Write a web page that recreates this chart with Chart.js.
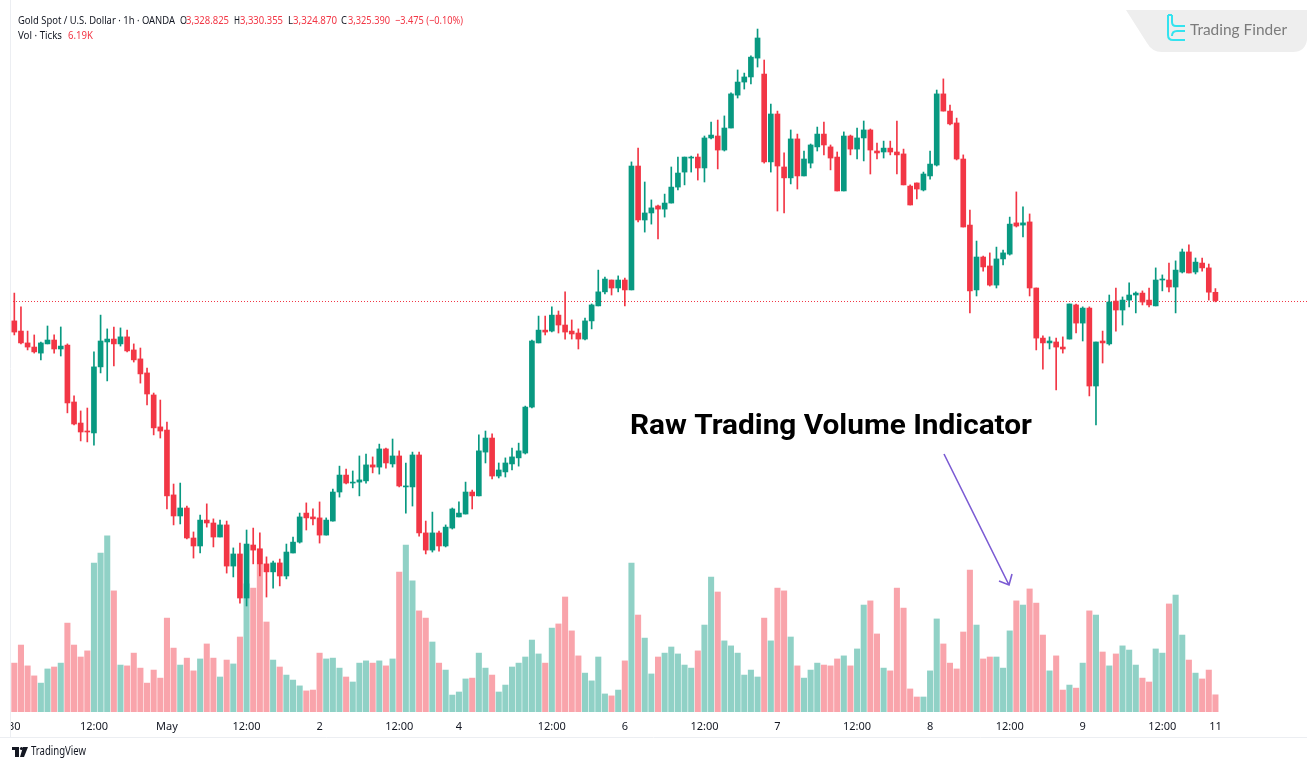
<!DOCTYPE html>
<html>
<head>
<meta charset="UTF-8">
<title>Gold Spot / U.S. Dollar · 1h</title>
<script src="https://cdn.jsdelivr.net/npm/chart.js"></script>
<style>
  * {padding: 0; margin: 0;}
  body {background: #fff; overflow: hidden;}
  #wrap {position: relative; width: 1307px; height: 759px;}
</style>
</head>
<body>
<div id="wrap"><canvas id="myChart" width="1307" height="759"></canvas></div>
<script>
// XAUUSD 1h candles (index 0 = Apr 30 00:00 bar)
const opens = [
  3317.0, 3312.8, 3307.9, 3306.2, 3303.7, 3307.5, 3309.1, 3305.4, 3307.0, 3283.5,
  3274.8, 3271.5, 3270.7, 3298.0, 3308.3, 3309.5, 3307.5, 3310.4, 3305.0, 3301.3,
  3295.5, 3286.4, 3273.2, 3271.9, 3245.1, 3236.4, 3239.7, 3227.3, 3224.0, 3234.7,
  3233.5, 3227.7, 3232.7, 3215.7, 3220.7, 3202.5, 3224.4, 3222.8, 3216.6, 3213.3,
  3217.0, 3211.6, 3221.1, 3225.6, 3237.6, 3236.0, 3235.6, 3228.5, 3234.3, 3246.3,
  3253.3, 3250.0, 3250.4, 3250.9, 3257.5, 3256.6, 3264.1, 3257.9, 3261.2, 3248.4,
  3248.4, 3261.6, 3229.4, 3222.3, 3229.4, 3224.0, 3231.4, 3236.0, 3237.2, 3246.3,
  3244.7, 3262.8, 3268.6, 3252.9, 3254.6, 3257.9, 3260.4, 3262.4, 3281.4, 3307.9,
  3313.2, 3312.8, 3319.4, 3315.3, 3312.8, 3312.0, 3309.5, 3317.0, 3323.2, 3329.0,
  3333.9, 3330.6, 3333.9, 3329.8, 3381.0, 3358.7, 3361.6, 3364.5, 3363.2, 3365.7,
  3372.3, 3378.5, 3384.3, 3384.7, 3380.2, 3392.6, 3393.4, 3387.6, 3396.7, 3410.3,
  3415.7, 3417.8, 3425.6, 3419.0, 3382.7, 3402.5, 3380.6, 3376.1, 3392.2, 3376.9,
  3382.2, 3388.9, 3394.2, 3388.9, 3384.7, 3370.7, 3393.4, 3388.0, 3392.6, 3395.9,
  3387.2, 3386.8, 3388.4, 3386.8, 3386.0, 3372.7, 3374.0, 3371.1, 3376.9, 3381.4,
  3410.8, 3403.7, 3398.8, 3383.9, 3356.6, 3329.8, 3343.4, 3339.7, 3331.8, 3342.6,
  3344.6, 3357.5, 3356.6, 3357.9, 3330.6, 3309.9, 3307.9, 3308.3, 3306.2, 3309.5,
  3323.6, 3316.1, 3322.3, 3290.1, 3308.7, 3307.5, 3325.2, 3321.5, 3325.6, 3327.7,
  3328.5, 3325.6, 3323.2, 3333.9, 3333.9, 3331.0, 3337.2, 3345.5, 3337.2, 3340.9,
  3338.9, 3328.825
];
const highs = [
  3328.5, 3322.8, 3312.8, 3311.2, 3308.3, 3314.9, 3311.2, 3314.5, 3307.5, 3286.0,
  3279.8, 3281.0, 3304.2, 3319.4, 3313.7, 3314.5, 3314.1, 3313.2, 3307.5, 3305.8,
  3297.5, 3287.2, 3284.3, 3275.2, 3249.6, 3250.0, 3240.5, 3229.8, 3236.8, 3241.4,
  3235.2, 3234.7, 3234.3, 3223.2, 3225.2, 3230.6, 3231.4, 3229.4, 3219.5, 3217.8,
  3218.6, 3224.8, 3227.7, 3237.6, 3241.8, 3239.3, 3242.2, 3235.6, 3247.5, 3257.0,
  3255.8, 3255.0, 3261.2, 3262.0, 3260.8, 3266.1, 3264.5, 3268.2, 3263.3, 3258.3,
  3262.8, 3262.8, 3234.3, 3238.0, 3230.2, 3232.7, 3239.7, 3242.2, 3250.4, 3247.1,
  3269.9, 3271.5, 3270.3, 3258.3, 3260.4, 3264.5, 3266.5, 3281.8, 3309.1, 3319.0,
  3319.0, 3322.8, 3321.1, 3329.0, 3317.4, 3313.7, 3318.2, 3324.0, 3338.0, 3335.1,
  3333.9, 3335.6, 3334.7, 3382.7, 3388.4, 3374.4, 3367.0, 3364.9, 3369.4, 3380.6,
  3384.7, 3384.7, 3385.1, 3386.0, 3393.4, 3399.2, 3400.0, 3401.7, 3411.2, 3420.7,
  3419.4, 3426.5, 3437.6, 3424.8, 3406.6, 3403.7, 3386.4, 3395.9, 3394.2, 3387.2,
  3390.1, 3397.1, 3399.2, 3389.7, 3386.8, 3395.1, 3393.8, 3396.7, 3399.6, 3396.3,
  3390.5, 3391.3, 3391.3, 3399.6, 3388.0, 3373.2, 3374.0, 3378.5, 3387.2, 3412.4,
  3417.0, 3406.2, 3400.8, 3385.6, 3362.8, 3350.0, 3343.8, 3345.1, 3347.5, 3346.3,
  3359.9, 3370.3, 3364.1, 3361.2, 3330.6, 3310.8, 3310.4, 3309.9, 3310.4, 3324.0,
  3324.0, 3322.8, 3322.8, 3308.3, 3312.8, 3327.7, 3330.6, 3326.9, 3332.7, 3329.0,
  3329.4, 3330.6, 3338.9, 3336.0, 3340.9, 3341.8, 3346.7, 3348.4, 3343.0, 3343.0,
  3340.5, 3330.355
];
const lows = [
  3311.2, 3307.5, 3305.0, 3303.7, 3300.9, 3307.5, 3303.7, 3302.5, 3279.0, 3274.0,
  3267.4, 3267.0, 3265.7, 3295.5, 3292.2, 3298.4, 3306.6, 3304.2, 3300.0, 3291.3,
  3282.3, 3269.9, 3268.6, 3239.3, 3232.7, 3233.1, 3226.9, 3219.0, 3221.1, 3231.8,
  3223.6, 3227.7, 3212.8, 3211.2, 3200.4, 3199.2, 3216.6, 3211.6, 3202.9, 3206.6,
  3207.5, 3210.4, 3221.1, 3225.2, 3230.6, 3232.7, 3225.2, 3228.5, 3234.3, 3244.2,
  3249.6, 3248.0, 3244.7, 3250.0, 3254.2, 3253.7, 3256.2, 3256.6, 3248.4, 3237.6,
  3240.5, 3228.1, 3220.7, 3221.5, 3221.9, 3223.6, 3231.0, 3236.0, 3237.2, 3239.3,
  3244.7, 3258.3, 3251.7, 3252.1, 3252.5, 3255.4, 3257.0, 3262.0, 3281.0, 3307.9,
  3311.2, 3312.4, 3312.0, 3309.5, 3309.5, 3305.4, 3309.1, 3313.7, 3323.2, 3328.1,
  3327.7, 3329.0, 3323.2, 3329.8, 3357.9, 3353.7, 3357.0, 3350.9, 3359.9, 3365.7,
  3371.1, 3373.2, 3378.5, 3375.2, 3374.4, 3392.2, 3379.8, 3387.2, 3396.7, 3409.1,
  3412.8, 3414.9, 3421.9, 3382.2, 3378.5, 3362.4, 3361.6, 3373.6, 3371.5, 3376.9,
  3380.2, 3387.2, 3385.6, 3379.4, 3370.7, 3370.7, 3385.6, 3383.9, 3383.1, 3377.7,
  3383.9, 3384.3, 3385.6, 3377.7, 3373.2, 3364.9, 3367.4, 3370.7, 3375.6, 3381.0,
  3403.7, 3398.0, 3383.5, 3355.8, 3320.3, 3327.3, 3337.6, 3331.4, 3330.6, 3340.1,
  3344.2, 3355.8, 3351.7, 3327.3, 3305.0, 3297.1, 3305.4, 3288.5, 3303.7, 3309.5,
  3312.0, 3308.7, 3286.0, 3274.0, 3299.6, 3307.0, 3312.8, 3315.3, 3322.8, 3320.3,
  3323.6, 3322.8, 3323.2, 3329.4, 3329.0, 3320.3, 3336.8, 3336.8, 3336.4, 3337.6,
  3325.6, 3324.870
];
const closes = [
  3312.4, 3307.9, 3306.2, 3304.2, 3307.9, 3309.1, 3305.4, 3306.6, 3283.1, 3274.4,
  3271.1, 3271.1, 3298.0, 3308.7, 3309.5, 3307.5, 3310.4, 3304.6, 3300.9, 3295.1,
  3286.8, 3272.8, 3271.5, 3244.7, 3236.4, 3239.7, 3227.3, 3224.0, 3234.7, 3233.5,
  3227.7, 3232.7, 3215.7, 3220.7, 3202.5, 3224.8, 3222.3, 3216.6, 3213.3, 3217.0,
  3211.6, 3221.5, 3225.6, 3236.0, 3235.6, 3235.2, 3228.5, 3234.7, 3246.3, 3253.3,
  3250.0, 3250.4, 3251.3, 3257.5, 3256.6, 3264.1, 3258.3, 3261.2, 3248.8, 3248.8,
  3261.6, 3229.4, 3222.3, 3229.4, 3224.0, 3231.8, 3239.3, 3237.6, 3246.3, 3244.7,
  3263.3, 3268.6, 3252.9, 3255.4, 3258.3, 3260.8, 3263.3, 3281.4, 3308.7, 3313.2,
  3312.4, 3319.4, 3315.3, 3312.4, 3311.6, 3309.5, 3317.0, 3323.6, 3329.0, 3334.3,
  3330.6, 3333.9, 3329.8, 3381.0, 3358.7, 3361.6, 3363.7, 3363.2, 3365.7, 3372.3,
  3378.1, 3384.7, 3384.7, 3380.2, 3392.6, 3393.8, 3387.6, 3396.7, 3410.8, 3415.7,
  3417.8, 3426.0, 3433.9, 3382.7, 3402.5, 3381.0, 3376.1, 3392.2, 3376.9, 3383.9,
  3389.7, 3394.2, 3389.7, 3384.3, 3370.7, 3393.4, 3388.0, 3392.6, 3395.9, 3387.6,
  3386.4, 3388.4, 3386.8, 3385.6, 3373.2, 3364.9, 3371.5, 3377.7, 3381.8, 3410.8,
  3403.7, 3398.4, 3383.9, 3355.8, 3329.4, 3343.4, 3339.3, 3331.8, 3342.6, 3345.1,
  3357.0, 3356.2, 3357.5, 3330.6, 3309.9, 3307.9, 3308.7, 3306.2, 3305.4, 3324.0,
  3316.1, 3322.3, 3290.1, 3308.3, 3307.9, 3324.8, 3321.5, 3325.6, 3327.7, 3328.5,
  3324.8, 3323.6, 3333.9, 3334.3, 3331.0, 3338.0, 3345.5, 3336.8, 3341.3, 3338.9,
  3328.865, 3325.390
];
// volume in thousands of ticks
const volumes = [
  17.6, 24.1, 16.6, 13.0, 10.4, 15.5, 16.2, 17.6, 32.0, 24.1,
  19.8, 22.0, 53.6, 57.2, 63.4, 43.6, 16.9, 16.6, 21.2, 15.8,
  10.4, 15.1, 12.2, 33.8, 23.0, 16.9, 19.4, 14.8, 19.1, 24.5,
  19.4, 12.6, 18.7, 17.3, 27.0, 46.1, 44.6, 58.7, 32.4, 18.7,
  16.2, 13.3, 11.5, 9.4, 7.6, 7.9, 21.2, 19.1, 19.4, 15.8,
  12.6, 10.8, 17.6, 18.4, 17.6, 18.4, 16.6, 19.1, 50.4, 60.1,
  47.2, 36.4, 33.8, 25.2, 17.6, 15.1, 6.1, 7.2, 11.9, 12.2,
  21.2, 15.8, 13.3, 7.2, 9.7, 16.2, 17.6, 19.8, 25.9, 20.9,
  17.6, 30.2, 31.7, 41.4, 29.2, 20.2, 14.0, 11.2, 19.8, 6.5,
  5.8, 7.9, 18.4, 53.6, 34.9, 26.6, 13.7, 19.8, 21.2, 23.4,
  20.9, 16.9, 15.8, 22.0, 31.3, 48.6, 43.2, 25.6, 23.8, 21.2,
  13.3, 15.1, 12.6, 33.8, 25.6, 44.6, 43.6, 27.0, 16.6, 12.2,
  15.1, 17.6, 16.9, 16.6, 19.1, 20.2, 16.6, 22.7, 38.5, 40.0,
  28.1, 15.8, 14.8, 44.6, 37.4, 8.3, 5.4, 5.4, 14.8, 33.5,
  24.5, 17.6, 15.5, 28.8, 51.1, 31.3, 19.1, 19.8, 19.8, 15.8,
  29.2, 40.0, 38.5, 44.3, 39.2, 27.7, 14.8, 20.2, 7.9, 9.7,
  8.6, 17.6, 36.4, 34.9, 21.6, 16.6, 20.9, 23.8, 22.3, 16.9,
  12.2, 10.8, 22.7, 21.2, 38.9, 42.1, 27.7, 18.7, 14.0, 11.9,
  15.1, 6.19
];
// time axis labels (bar index -> text)
const tickIdx  = [0, 12, 23, 35, 46, 58, 67, 81, 92, 104, 115, 127, 138, 150, 161, 173, 181];
const tickText = ['30', '12:00', 'May', '12:00', '2', '12:00', '4', '12:00', '6', '12:00', '7', '12:00', '8', '12:00', '9', '12:00', '11'];

const UP = '#089981', DOWN = '#f23645';
const UP_VOL = 'rgba(8,153,129,0.45)', DOWN_VOL = 'rgba(242,54,69,0.45)';
const isUp = i => closes[i] >= opens[i];
const last = closes.length - 1;

// draw text stretched/squeezed to an exact width
function fitText(ctx, t, x, y, w) {
  const m = ctx.measureText(t).width;
  ctx.save();
  ctx.translate(x, y);
  ctx.scale(w / m, 1);
  ctx.fillText(t, 0, 0);
  ctx.restore();
}

// last-price dotted line + text overlays
const overlay = {
  id: 'overlay',
  beforeDatasetsDraw(chart) {
    const {ctx, chartArea, scales} = chart;
    const y = Math.round(scales.y.getPixelForValue(closes[last])) + 0.5;
    ctx.save();
    ctx.strokeStyle = DOWN;
    ctx.lineWidth = 1;
    ctx.setLineDash([1, 2]);
    ctx.beginPath();
    ctx.moveTo(chartArea.left + 2, y);
    ctx.lineTo(chartArea.right, y);
    ctx.stroke();
    ctx.restore();
  },
  afterDraw(chart) {
    const ctx = chart.ctx;
    ctx.save();
    // left edge is cut like the screenshot
    ctx.fillStyle = '#fff';
    ctx.fillRect(0, 714, 10, 22);
    // frame lines
    ctx.strokeStyle = '#eceef2';
    ctx.lineWidth = 1;
    ctx.beginPath();
    ctx.moveTo(10.5, 0); ctx.lineTo(10.5, 737);
    ctx.moveTo(0, 737.5); ctx.lineTo(1307, 737.5);
    ctx.stroke();

    // header
    const fmt = v => v.toLocaleString('en-US', {minimumFractionDigits: 3, maximumFractionDigits: 3});
    const chg = closes[last] - closes[last - 1];
    const pct = chg / closes[last - 1] * 100;
    const sign = chg < 0 ? '\u2212' : '+';
    ctx.font = "11px 'Noto Sans'";
    ctx.textBaseline = 'middle';
    ctx.textAlign = 'left';
    const seg = (t, x, y, c, w) => { ctx.fillStyle = c; fitText(ctx, t, x, y, w); };
    seg('Gold Spot / U.S. Dollar \u00b7 1h \u00b7 OANDA', 18, 21, '#131722', 157);
    seg('O', 180, 21, '#131722', 7); seg(fmt(opens[last]), 186, 21, DOWN, 43);
    seg('H', 234, 21, '#131722', 6); seg(fmt(highs[last]), 240, 21, DOWN, 43);
    seg('L', 288, 21, '#131722', 5); seg(fmt(lows[last]), 293, 21, DOWN, 44);
    seg('C', 341, 21, '#131722', 6); seg(fmt(closes[last]), 348, 21, DOWN, 42);
    seg(sign + Math.abs(chg).toFixed(3) + ' (' + sign + Math.abs(pct).toFixed(2) + '%)', 395, 21, DOWN, 68);
    seg('Vol \u00b7 Ticks', 18, 36, '#131722', 44);
    seg(volumes[last].toFixed(2) + 'K', 68, 36, DOWN, 25);

    // annotation
    ctx.fillStyle = '#000';
    ctx.font = "bold 28px 'Roboto'";
    ctx.textBaseline = 'alphabetic';
    fitText(ctx, 'Raw Trading Volume Indicator', 630, 434, 402);

    ctx.strokeStyle = '#7b5bd3';
    ctx.lineWidth = 1.6;
    ctx.beginPath();
    ctx.moveTo(944, 454); ctx.lineTo(1009, 585);
    ctx.moveTo(999, 581); ctx.lineTo(1009, 585); ctx.lineTo(1012, 574);
    ctx.stroke();

    // Trading Finder badge
    ctx.fillStyle = '#eeeeee';
    ctx.beginPath();
    ctx.moveTo(1126, 10);
    ctx.lineTo(1307, 10);
    ctx.lineTo(1307, 40);
    ctx.quadraticCurveTo(1305, 52, 1293, 52);
    ctx.lineTo(1162, 52);
    ctx.quadraticCurveTo(1152, 52, 1147, 43);
    ctx.closePath();
    ctx.fill();
    ctx.strokeStyle = '#33e3ef';
    ctx.lineWidth = 2;
    ctx.lineJoin = 'round';
    ctx.beginPath();
    ctx.moveTo(1168, 15); ctx.lineTo(1168, 35);
    ctx.quadraticCurveTo(1168, 40, 1173, 40); ctx.lineTo(1185, 40);
    ctx.moveTo(1172, 15); ctx.lineTo(1172, 22);
    ctx.quadraticCurveTo(1172, 26, 1176, 26); ctx.lineTo(1185, 26);
    ctx.moveTo(1185, 31); ctx.lineTo(1177, 31);
    ctx.quadraticCurveTo(1172, 31, 1172, 36);
    ctx.moveTo(1168, 15); ctx.lineTo(1172, 15);
    ctx.stroke();
    ctx.fillStyle = '#7b7b7b';
    ctx.font = "15px 'Lato'";
    ctx.textBaseline = 'middle';
    fitText(ctx, 'Trading Finder', 1190, 30, 97);

    // TradingView footer
    ctx.fillStyle = '#131722';
    ctx.fillRect(12, 747, 7, 3);
    ctx.fillRect(15, 747, 4, 10);
    ctx.beginPath();
    ctx.arc(21.5, 748.5, 1.6, 0, Math.PI * 2);
    ctx.fill();
    ctx.beginPath();
    ctx.moveTo(23, 747); ctx.lineTo(28, 747); ctx.lineTo(24, 757); ctx.lineTo(20, 757);
    ctx.closePath();
    ctx.fill();
    ctx.font = "12px 'Noto Sans'";
    fitText(ctx, 'TradingView', 31, 752, 55);
    ctx.restore();
  }
};

const ctx = document.getElementById('myChart');
new Chart(ctx, {
  type: 'bar',
  data: {
    datasets: [{
      label: 'Volume',
      data: volumes.map((v, i) => ({x: i, y: v})),
      yAxisID: 'yVol',
      grouped: false,
      order: 3,
      barThickness: 5.4,
      backgroundColor: c => isUp(c.dataIndex) ? UP_VOL : DOWN_VOL
    }, {
      label: 'Wick',
      data: opens.map((_, i) => ({x: i, y: [lows[i], highs[i]]})),
      yAxisID: 'y',
      grouped: false,
      order: 2,
      barThickness: 1,
      backgroundColor: c => isUp(c.dataIndex) ? UP : DOWN
    }, {
      label: 'Body',
      data: opens.map((o, i) => ({x: i, y: [o, closes[i]]})),
      yAxisID: 'y',
      grouped: false,
      order: 1,
      barThickness: 5,
      minBarLength: 1,
      backgroundColor: c => isUp(c.dataIndex) ? UP : DOWN
    }]
  },
  options: {
    responsive: false,
    animation: false,
    devicePixelRatio: 1,
    layout: {padding: {left: 10.7, right: 0, top: 0, bottom: 0}},
    plugins: {legend: {display: false}, tooltip: {enabled: false}},
    scales: {
      x: {
        type: 'linear',
        min: -0.5,
        max: 194.8,
        offset: false,
        grid: {display: false, drawTicks: false, offset: false},
        border: {display: false},
        afterBuildTicks: ax => { ax.ticks = tickIdx.map(v => ({value: v})); },
        afterFit: ax => { ax.height = 47; },
        ticks: {
          autoSkip: false,
          maxRotation: 0,
          padding: 8,
          color: '#131722',
          font: {family: 'Noto Sans', size: 11},
          callback: v => tickText[tickIdx.indexOf(v)]
        }
      },
      y: {display: false, min: 3155.4, max: 3449.6},
      yVol: {display: false, min: 0, max: 256.3}
    }
  },
  plugins: [overlay]
});
</script>
</body>
</html>
